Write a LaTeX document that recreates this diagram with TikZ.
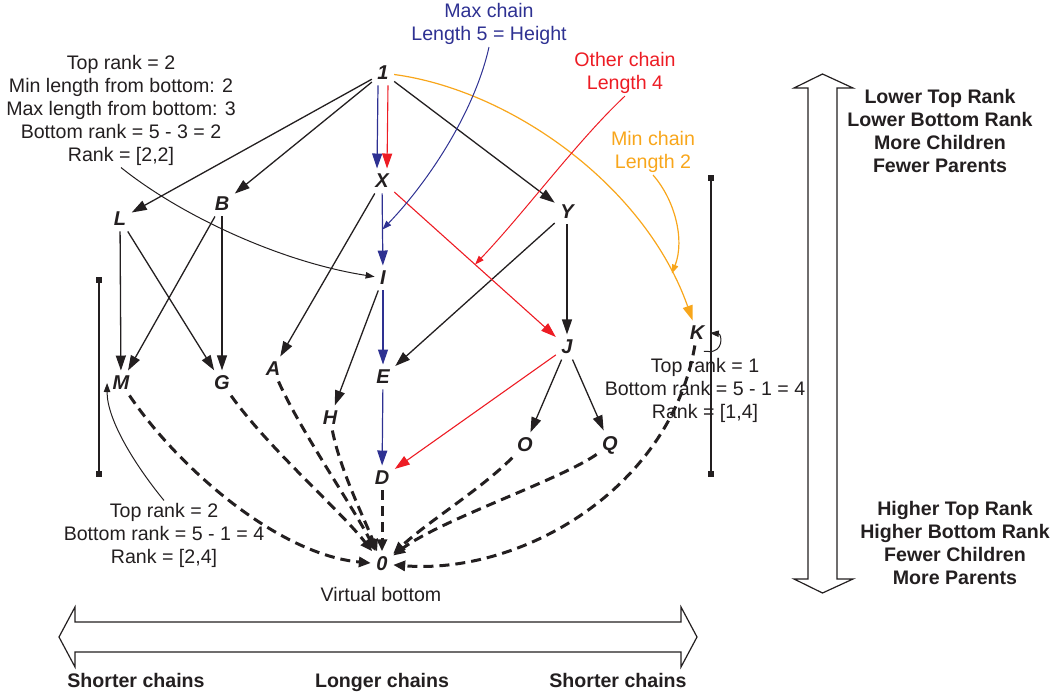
\documentclass[tikz,border=0pt]{standalone}
\usepackage{fontspec}
\setmainfont{Liberation Sans}
\usepackage{tikz}
\usetikzlibrary{arrows.meta}
\definecolor{ink}{RGB}{35,31,32}
\definecolor{maxblue}{RGB}{46,49,146}
\definecolor{otherred}{RGB}{237,28,36}
\definecolor{minorange}{RGB}{248,166,27}
\tikzset{
  posetvertex/.style={font=\fontsize{10}{11}\selectfont\bfseries\itshape, text=ink, inner sep=2.6pt},
  posetarrow/.style={-{Triangle[length=7.5pt,width=5pt]}, line width=0.65pt, draw=ink},
  maxarrow/.style={posetarrow, draw=maxblue, line width=0.6pt},
  otherarrow/.style={posetarrow, draw=otherred, line width=0.55pt},
  minarrow/.style={posetarrow, draw=minorange, line width=0.6pt},
  posetdash/.style={-{Triangle[length=6pt,width=5pt]}, line width=1.5pt, draw=ink, dash pattern=on 5pt off 3pt},
  notearrow/.style={-{Triangle[length=4.5pt,width=3.2pt]}, line width=0.5pt, draw=ink},
  posetnote/.style={font=\fontsize{9.8}{11.5}\selectfont, text=ink, align=center, inner sep=1pt},
  posetbold/.style={posetnote, font=\fontsize{9.8}{11.5}\selectfont\bfseries},
  rangebar/.style={{Square[length=3pt,width=3pt]}-{Square[length=3pt,width=3pt]}, line width=0.6pt, draw=ink},
  bigarrow/.style={draw=ink, line width=0.6pt, fill=white}
}
\begin{document}
\begin{tikzpicture}[x=0.5pt, y=-0.5pt]
  \useasboundingbox (0,0) rectangle (1055,696);

  \node[posetvertex] (top) at (383,73) {1};
  \node[posetvertex] (X) at (382,181) {X};
  \node[posetvertex] (L) at (120,219) {L};
  \node[posetvertex] (B) at (222,204) {B};
  \node[posetvertex] (Y) at (567,212) {Y};
  \node[posetvertex] (I) at (383,278) {I};
  \node[posetvertex] (K) at (697,333) {K};
  \node[posetvertex] (J) at (567,347) {J};
  \node[posetvertex] (M) at (121,383) {M};
  \node[posetvertex] (G) at (222,383) {G};
  \node[posetvertex] (A) at (273,369) {A};
  \node[posetvertex] (E) at (383,377) {E};
  \node[posetvertex] (H) at (330,418) {H};
  \node[posetvertex] (O) at (525,445) {O};
  \node[posetvertex] (Q) at (610,445) {Q};
  \node[posetvertex] (D) at (382,478) {D};
  \node[posetvertex] (bottom) at (382,564) {0};
  \node[posetnote] at (381,594) {Virtual bottom};

  \draw[posetarrow] (top) -- (L);
  \draw[posetarrow] (top) -- (B);
  \draw[posetarrow] (top) -- (Y);
  \draw[posetarrow] (X) -- (A);
  \draw[posetarrow] (L) -- (M);
  \draw[posetarrow] (L) -- (G);
  \draw[posetarrow] (B) -- (M);
  \draw[posetarrow] (B) -- (G);
  \draw[posetarrow] (I) -- (H);
  \draw[posetarrow] (Y) -- (E);
  \draw[posetarrow] (Y) -- (J);
  \draw[posetarrow] (J) -- (O);
  \draw[posetarrow] (J) -- (Q);

  \draw[maxarrow] ([xshift=-2.5pt]top.south) -- ([xshift=-2.5pt]X.north);
  \draw[maxarrow] (X) -- coordinate (maxhit) (I);
  \draw[maxarrow] (I) -- (E);
  \draw[maxarrow] (E) -- (D);
  \draw[otherarrow] ([xshift=2.5pt]top.south) -- ([xshift=2.5pt]X.north);
  \draw[otherarrow] (X) -- coordinate (otherhit) (J);
  \draw[otherarrow] (J) -- (D);
  \draw[minarrow] (top) .. controls (510,90) and (645,185) .. coordinate[pos=0.88] (minhit) (K);

  \draw[posetdash] (M) .. controls (180,470) and (280,555) .. (bottom);
  \draw[posetdash] (G) .. controls (270,450) and (340,510) .. (bottom);
  \draw[posetdash] (A) .. controls (300,430) and (355,510) .. (bottom);
  \draw[posetdash] (H) .. controls (340,470) and (365,520) .. (bottom);
  \draw[posetdash] (D) -- (bottom);
  \draw[posetdash] (O) .. controls (480,490) and (430,520) .. (bottom);
  \draw[posetdash] (Q) .. controls (560,480) and (440,520) .. (bottom);
  \draw[posetdash] (K) .. controls (670,490) and (520,575) .. (bottom);
  \draw[notearrow] ([shift={(-3pt,-3pt)}]K.south east) -- ++(4,0) .. controls (724,353) and (722,334) .. (K.east);

  \node[posetnote] (leftnote) at (121,110) {Top rank = 2\\Min length from bottom: 2\\Max length from bottom: 3\\Bottom rank = 5 - 3 = 2\\Rank = [2,2]};
  \node[posetnote] (mnote) at (164,535) {Top rank = 2\\Bottom rank = 5 - 1 = 4\\Rank = [2,4]};
  \node[posetnote] (knote) at (705,390) {Top rank = 1\\Bottom rank = 5 - 1 = 4\\Rank = [1,4]};
  \node[posetnote, text=maxblue] (maxnote) at (489,24) {Max chain\\Length 5 = Height};
  \node[posetnote, text=otherred] (othernote) at (625,73) {Other chain\\Length 4};
  \node[posetnote, text=minorange] (minnote) at (653,152) {Min chain\\Length 2};
  \draw[notearrow] (leftnote.south) .. controls (180,215) and (280,262) .. (I);
  \draw[notearrow] (mnote.north) .. controls (135,465) and (107,420) .. (M.west);
  \draw[notearrow, draw=maxblue] (maxnote.south) .. controls (475,110) and (430,180) .. (maxhit);
  \draw[notearrow, draw=otherred] (othernote.south) .. controls (578,140) and (525,212) .. (otherhit);
  \draw[notearrow, draw=minorange, line width=0.6pt] (minnote.south) .. controls (675,200) and (685,240) .. (minhit);

  \coordinate (lefttop) at (99,277);
  \coordinate (leftend) at (99,477);
  \coordinate (righttop) at (711,175);
  \coordinate (rightend) at (711,477);
  \draw[rangebar] (lefttop) -- (leftend);
  \draw[rangebar] (righttop) -- (rightend);

  \draw[bigarrow] (822.5,74) -- (853,88) -- (837,88) -- (837,579) -- (853,579) -- (822.5,593)
    -- (794,579) -- (808,579) -- (808,88) -- (794,88) -- cycle;
  \draw[bigarrow] (59,637) -- (75,607) -- (75,622) -- (681,622) -- (681,607) -- (697,637)
    -- (681,667) -- (681,652) -- (75,652) -- (75,667) -- cycle;
  \node[posetbold] (upnote) at (940,131) {Lower Top Rank\\Lower Bottom Rank\\More Children\\Fewer Parents};
  \node[posetbold] (downnote) at (955,543) {Higher Top Rank\\Higher Bottom Rank\\Fewer Children\\More Parents};
  \node[posetbold, anchor=base] (shortleft) at (136,687) {Shorter chains};
  \node[posetbold, anchor=base] (longmid) at (382,687) {Longer chains};
  \node[posetbold, anchor=base] (shortright) at (618,687) {Shorter chains};
\end{tikzpicture}
\end{document}
